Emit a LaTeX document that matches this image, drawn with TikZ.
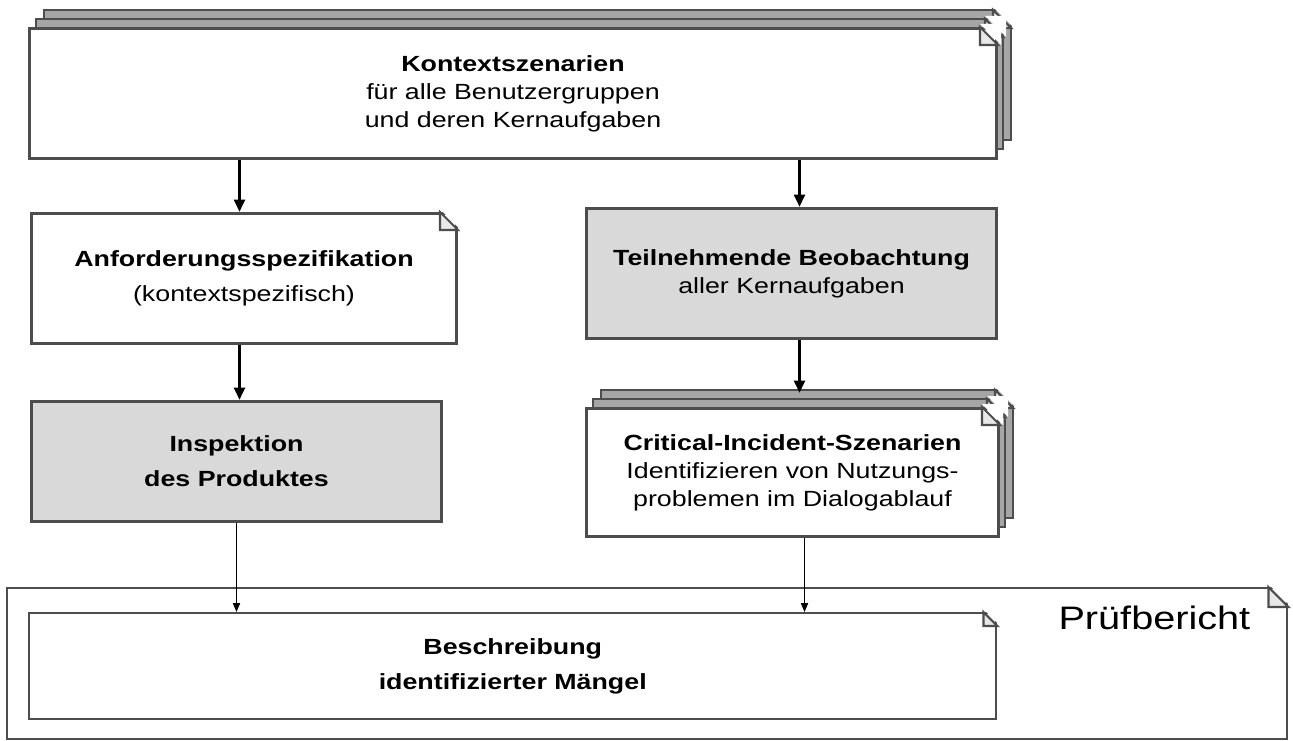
\documentclass[tikz,border=0pt]{standalone}
\usepackage{fontspec}
\setmainfont[FakeStretch=1.22]{Liberation Sans}
\definecolor{rand}{HTML}{4D4D4D}
\definecolor{grau}{HTML}{D9D9D9}
\definecolor{lage}{HTML}{A6A6A6}
\usetikzlibrary{calc, positioning, arrows.meta}

% Eselsohr an einer Ecke (oben rechts)
\newcommand{\eselsohr}[2][18]{%
  \fill[white] ($(#2)+(-#1,-3)$) -- ($(#2)+(3,-3)$)
    -- ($(#2)+(3,#1)$) -- cycle;
  \draw[rand, line width=1.2pt, fill=grau!60]
    ($(#2)+(-#1,0)$) -- ($(#2)+(0,#1)$)
    -- ($(#2)+(-#1,#1)$) -- cycle;
}
% Stapel hinter einem Dokument
\newcommand{\stapel}[2]{%
  \draw[rand, line width=1.4pt, fill=lage] ($(#1)+(16,-17)$) rectangle ($(#2)+(16,-17)$);
  \eselsohr{$(#2 |- #1)+(16,-17)$}
  \draw[rand, line width=1.4pt, fill=lage] ($(#1)+(8,-8)$) rectangle ($(#2)+(8,-8)$);
  \eselsohr{$(#2 |- #1)+(8,-8)$}
}

\begin{document}
\begin{tikzpicture}[x=0.02cm, y=-0.02cm,
  doc/.style={draw=rand, line width=1.7pt, fill=white, align=center,
              anchor=north west, inner sep=0pt,
              font=\fontsize{12.5}{16}\selectfont},
  aktiv/.style={doc, fill=grau},
  pfeil/.style={line width=1.8pt, -{Triangle[length=7pt, width=6pt]}},
  duenn/.style={line width=0.8pt, -{Triangle[length=5pt, width=4pt]}},
]
\useasboundingbox (0,0) rectangle (1293,740);

% Pruefbericht
\node[doc, line width=1.4pt, minimum width=1280*0.02cm, minimum height=151*0.02cm]
  (bericht) at (6,587) {};
\eselsohr[20]{bericht.north east}
\node[font=\fontsize{18.5}{22}\selectfont, anchor=north east] (titel)
  at ($(bericht.north east)+(-32,13)$) {Prüfbericht};

% Kontextszenarien mit Stapel
\coordinate (k1) at (28,27);
\coordinate (k2) at (995,157);
\stapel{k1}{k2}
\node[doc, minimum width=967*0.02cm, minimum height=130*0.02cm] (kontext) at (k1)
  {\textbf{Kontextszenarien}\\für alle Benutzergruppen\\und deren Kernaufgaben};
\eselsohr{kontext.north east}

\node[doc, minimum width=425*0.02cm, minimum height=130*0.02cm] (anford) at (30,212)
  {\textbf{Anforderungsspezifikation}\\[4pt](kontextspezifisch)};
\eselsohr{anford.north east}

\node[aktiv, minimum width=410*0.02cm, minimum height=130*0.02cm] (beob) at (585,207)
  {\textbf{Teilnehmende Beobachtung}\\aller Kernaufgaben};

\node[aktiv, minimum width=410*0.02cm, minimum height=120*0.02cm] (inspekt) at (30,400)
  {\textbf{Inspektion}\\[4pt]\textbf{des Produktes}};

% Critical-Incident mit Stapel
\coordinate (c1) at (585,407);
\coordinate (c2) at (997,535);
\stapel{c1}{c2}
\node[doc, minimum width=412*0.02cm, minimum height=128*0.02cm] (incident) at (c1)
  {\textbf{Critical-Incident-Szenarien}\\Identifizieren von Nutzungs-\\problemen im Dialogablauf};
\eselsohr{incident.north east}

\node[doc, line width=1.4pt, minimum width=967*0.02cm, minimum height=106*0.02cm]
  (beschr) at (28,612)
  {\textbf{Beschreibung}\\[4pt]\textbf{identifizierter Mängel}};
\eselsohr[14]{beschr.north east}

% Verbindungen
\draw[pfeil] ($(kontext.south -| inspekt.north)+(3,0)$) -- ($(anford.north -| inspekt.north)+(3,0)$);
\draw[pfeil] ($(anford.south -| inspekt.north)+(3,0)$) -- ($(inspekt.north)+(3,0)$);
\draw[pfeil] ($(kontext.south -| beob.north)+(8,0)$) -- ($(beob.north)+(8,0)$);
\draw[pfeil] ($(beob.south)+(8,0)$) -- ($(incident.north -| beob.south)+(8,-14)$);
\draw[duenn] (inspekt.south) -- (beschr.north -| inspekt.south);
\draw[duenn] ($(incident.south)+(12,0)$) -- ($(beschr.north -| incident.south)+(12,0)$);
\end{tikzpicture}
\end{document}
